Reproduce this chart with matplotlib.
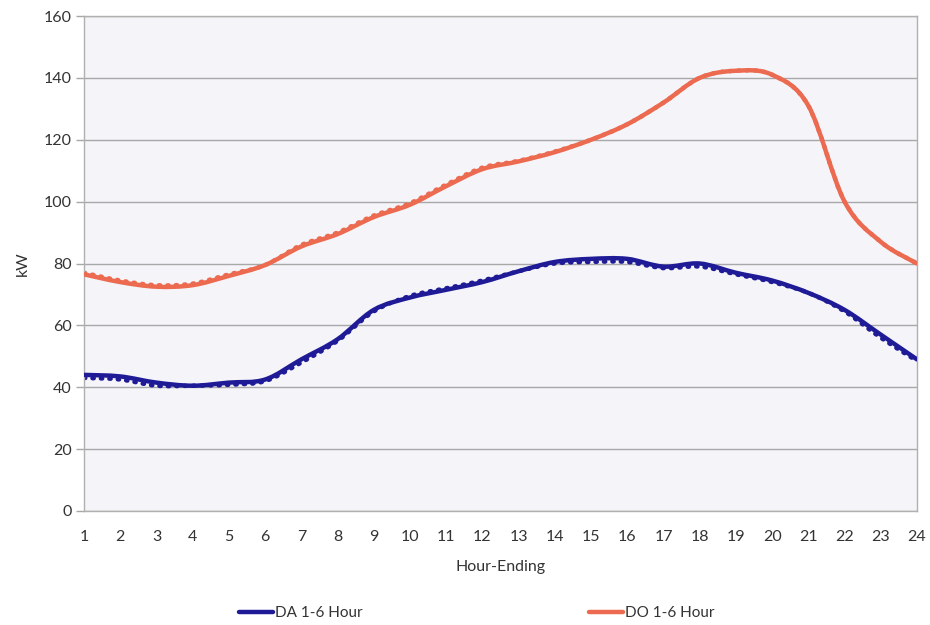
import numpy as np
import matplotlib
matplotlib.use("Agg")
import matplotlib.pyplot as plt
from matplotlib.path import Path
from matplotlib.patches import PathPatch
from matplotlib.lines import Line2D

plt.rcParams['font.family'] = ['Lato', 'DejaVu Sans']

hours = list(range(1, 25))
y_ticks = [0, 20, 40, 60, 80, 100, 120, 140, 160]

da_forecast = [44, 43.5, 41.5, 40.5, 41.5, 42.5, 49, 55.5, 65, 69, 71.5, 74,
               77.5, 80.5, 81.5, 81.5, 79, 80, 77, 74.5, 70.5, 65, 57, 49]
da_actual = [43, 42.5, 40.5, 40.5, 40.8, 42, 48, 55, 64.5, 69.5, 72, 74.5,
             77.5, 80, 80.5, 80.5, 78.5, 79, 76.5, 74, 70.5, 64.5, 56, 48.5]
do_forecast = [76.5, 74, 72.5, 73, 76, 79.5, 85.5, 89.5, 95, 99, 105, 110.5,
               113, 116, 120, 125, 132, 140, 142.3, 141, 131, 100, 87, 80]
do_actual = [77, 74.5, 73, 73.5, 76.5, 79.5, 86, 90, 95.5, 99.5, 105.5, 111,
             113.2, 116.2, 120, 125, 132, 140, 142.3, 141, 131, 100, 87, 80]

DA_COLOR = "#1f1b96"
DO_COLOR = "#ec6a50"


def smooth_path(xs, ys):
    """Cubic Bezier path through every point (Catmull-Rom style smoothing)."""
    xs = np.asarray(xs, float)
    ys = np.asarray(ys, float)
    pts = np.column_stack([xs, ys])
    n = len(pts)
    verts = [pts[0]]
    codes = [Path.MOVETO]
    for i in range(n - 1):
        p0 = pts[i - 1] if i > 0 else pts[i]
        p1 = pts[i]
        p2 = pts[i + 1]
        p3 = pts[i + 2] if i + 2 < n else pts[i + 1]
        c1 = p1 + (p2 - p0) / 6.0
        c2 = p2 - (p3 - p1) / 6.0
        verts += [c1, c2, p2]
        codes += [Path.CURVE4] * 3
    return Path(verts, codes)


def draw_curve(ax, xs, ys, color, lw, dotted=False):
    kw = dict(facecolor="none", edgecolor=color, lw=lw, zorder=3 if not dotted else 2,
              capstyle="round", joinstyle="round")
    if dotted:
        kw["linestyle"] = (0, (0.3, 1.6))
    ax.add_patch(PathPatch(smooth_path(xs, ys), **kw))


fig = plt.figure(figsize=(9.3, 6.25), dpi=100)
ax = fig.add_axes([84 / 930, 1 - 511 / 625, (917 - 84) / 930, (511 - 16) / 625])
ax.set_facecolor("#f4f4f9")

draw_curve(ax, hours, da_actual, DA_COLOR, 3.2, dotted=True)
draw_curve(ax, hours, do_actual, DO_COLOR, 3.2, dotted=True)
draw_curve(ax, hours, da_forecast, DA_COLOR, 3.2)
draw_curve(ax, hours, do_forecast, DO_COLOR, 3.2)

ax.set_xlim(1, 24)
ax.set_ylim(0, 160)
ax.set_xticks(hours)
ax.set_xticklabels([str(h) for h in hours])
ax.set_yticks(y_ticks)
ax.grid(axis="y", color="#a8a8a8", lw=1.0, zorder=1)
ax.set_axisbelow(True)
for side in ["left", "right", "top", "bottom"]:
    ax.spines[side].set_color("#b0b0b0")
    ax.spines[side].set_linewidth(1.0)
ax.tick_params(axis="x", length=0, pad=14, labelsize=11.5, colors="#333333")
ax.tick_params(axis="y", length=6, width=1.0, color="#a8a8a8", pad=3,
               labelsize=11.5, labelcolor="#333333")
ax.set_xlabel("Hour-Ending", fontsize=11.5, color="#333333", labelpad=11)
ax.set_ylabel("kW", fontsize=11.5, color="#333333", labelpad=10)

handles = [Line2D([], [], color=DA_COLOR, lw=3.2, solid_capstyle="round"),
           Line2D([], [], color=DO_COLOR, lw=3.2, solid_capstyle="round")]
fig.legend(handles, ["DA 1-6 Hour", "DO 1-6 Hour"], ncol=2, frameon=False,
           loc="center", bbox_to_anchor=(477 / 930, 1 - 613 / 625),
           fontsize=11, handlelength=2.2, handletextpad=0.15,
           columnspacing=14.8, labelcolor="#333333")

fig.savefig("out.png", dpi=100, facecolor="white")
